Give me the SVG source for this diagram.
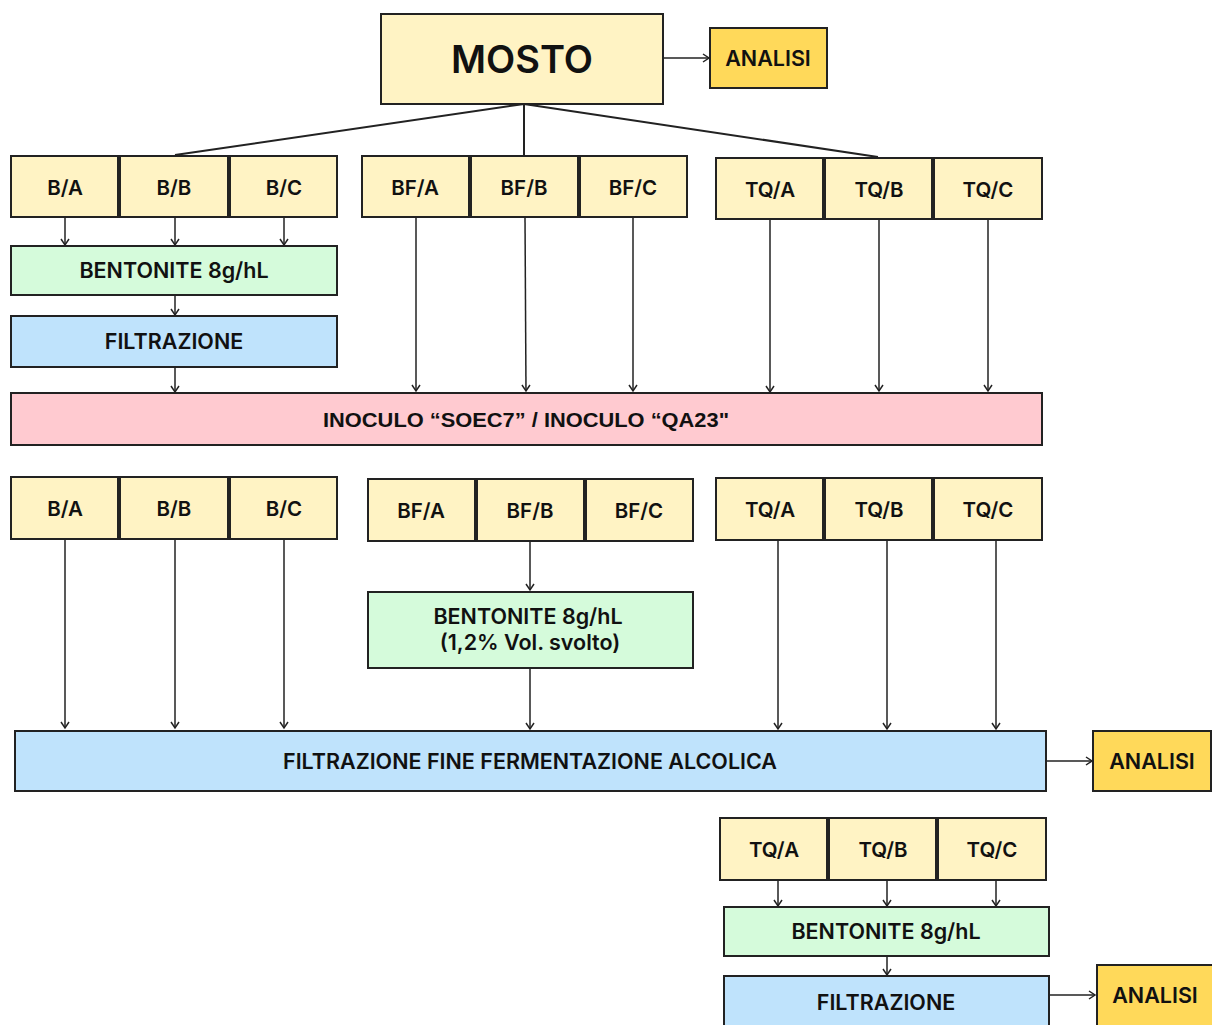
<svg xmlns="http://www.w3.org/2000/svg" width="1212" height="1025" viewBox="0 0 1212 1025">
<defs>
<marker id="ah" markerWidth="10" markerHeight="10" refX="8" refY="5" orient="auto" markerUnits="userSpaceOnUse">
<path d="M2,1 L8,5 L2,9" fill="none" stroke="#222" stroke-width="1.5"/>
</marker>
<style>
rect{stroke:#222;stroke-width:2}
.y{fill:#FFF3C4}
.g{fill:#D5FBDB}
.b{fill:#BFE3FC}
.p{fill:#FFCAD0}
.o{fill:#FFD95A}
text{font-family:"Inter","Liberation Sans",sans-serif;font-weight:600;fill:#111;text-anchor:middle;dominant-baseline:central}
.s{font-size:20.5px}
.m{font-size:21.5px}
.c line,.c path{stroke:#222;stroke-width:1.5;fill:none}
.c .a{marker-end:url(#ah)}
</style>
</defs>
<rect width="1212" height="1025" fill="#fff" style="stroke:none"/>

<g class="c" id="connectors">
<line class="a" x1="663" y1="58" x2="709" y2="58"/>
<path d="M524,104 L175,155 M524,104 L524,155 M524,104 L878,157" style="stroke-width:2"/>
<line class="a" x1="65" y1="217" x2="65" y2="245"/>
<line class="a" x1="175" y1="217" x2="175" y2="245"/>
<line class="a" x1="284" y1="217" x2="284" y2="245"/>
<line class="a" x1="175" y1="295" x2="175" y2="315"/>
<line class="a" x1="175" y1="367" x2="175" y2="392"/>
<line class="a" x1="416" y1="217" x2="416" y2="391"/>
<line class="a" x1="525" y1="217" x2="526" y2="391"/>
<line class="a" x1="633" y1="217" x2="633" y2="391"/>
<line class="a" x1="770" y1="219" x2="770" y2="392"/>
<line class="a" x1="879" y1="219" x2="879" y2="391"/>
<line class="a" x1="988" y1="219" x2="988" y2="391"/>
<line class="a" x1="65" y1="539" x2="65" y2="728"/>
<line class="a" x1="175" y1="539" x2="175" y2="728"/>
<line class="a" x1="284" y1="539" x2="284" y2="728"/>
<line class="a" x1="530" y1="541" x2="530" y2="590"/>
<line class="a" x1="530" y1="668" x2="530" y2="729"/>
<line class="a" x1="778" y1="540" x2="778" y2="729"/>
<line class="a" x1="887" y1="540" x2="887" y2="729"/>
<line class="a" x1="996" y1="540" x2="996" y2="729"/>
<line class="a" x1="1046" y1="761" x2="1092" y2="761"/>
<line class="a" x1="778" y1="880" x2="778" y2="906"/>
<line class="a" x1="887" y1="880" x2="887" y2="906"/>
<line class="a" x1="996" y1="880" x2="996" y2="906"/>
<line class="a" x1="887" y1="956" x2="887" y2="975"/>
<line class="a" x1="1049" y1="995" x2="1095" y2="995"/>
</g>

<g id="mosto"><rect class="y" x="381" y="14" width="282" height="90"/><text x="522" y="59" style="font-size:38px">MOSTO</text></g>
<g id="analisi1"><rect class="o" x="710" y="28" width="117" height="60"/><text class="m" x="768" y="58">ANALISI</text></g>

<g id="r1-ba"><rect class="y" x="11" y="156" width="107" height="61"/><text class="s" x="65" y="187">B/A</text></g>
<g id="r1-bb"><rect class="y" x="120" y="156" width="108" height="61"/><text class="s" x="174" y="187">B/B</text></g>
<g id="r1-bc"><rect class="y" x="230" y="156" width="107" height="61"/><text class="s" x="284" y="187">B/C</text></g>
<g id="r1-bfa"><rect class="y" x="362" y="156" width="107" height="61"/><text class="s" x="415" y="187">BF/A</text></g>
<g id="r1-bfb"><rect class="y" x="471" y="156" width="107" height="61"/><text class="s" x="524" y="187">BF/B</text></g>
<g id="r1-bfc"><rect class="y" x="580" y="156" width="107" height="61"/><text class="s" x="633" y="187">BF/C</text></g>
<g id="r1-tqa"><rect class="y" x="716" y="158" width="107" height="61"/><text class="s" x="770" y="189">TQ/A</text></g>
<g id="r1-tqb"><rect class="y" x="825" y="158" width="107" height="61"/><text class="s" x="879" y="189">TQ/B</text></g>
<g id="r1-tqc"><rect class="y" x="934" y="158" width="108" height="61"/><text class="s" x="988" y="189">TQ/C</text></g>

<g id="bent1"><rect class="g" x="11" y="246" width="326" height="49"/><text class="m" x="174" y="270">BENTONITE 8g/hL</text></g>
<g id="filt1"><rect class="b" x="11" y="316" width="326" height="51"/><text class="m" x="174" y="341">FILTRAZIONE</text></g>

<g id="inoculo"><rect class="p" x="11" y="393" width="1031" height="52"/><text x="526" y="419" style="font-size:21px;font-family:'Liberation Sans Narrow','Liberation Sans',sans-serif;font-weight:700" textLength="406" lengthAdjust="spacingAndGlyphs">INOCULO “SOEC7” / INOCULO “QA23"</text></g>

<g id="r2-ba"><rect class="y" x="11" y="477" width="107" height="62"/><text class="s" x="65" y="508">B/A</text></g>
<g id="r2-bb"><rect class="y" x="120" y="477" width="108" height="62"/><text class="s" x="174" y="508">B/B</text></g>
<g id="r2-bc"><rect class="y" x="230" y="477" width="107" height="62"/><text class="s" x="284" y="508">B/C</text></g>
<g id="r2-bfa"><rect class="y" x="368" y="479" width="107" height="62"/><text class="s" x="421" y="510">BF/A</text></g>
<g id="r2-bfb"><rect class="y" x="477" y="479" width="107" height="62"/><text class="s" x="530" y="510">BF/B</text></g>
<g id="r2-bfc"><rect class="y" x="586" y="479" width="107" height="62"/><text class="s" x="639" y="510">BF/C</text></g>
<g id="r2-tqa"><rect class="y" x="716" y="478" width="107" height="62"/><text class="s" x="770" y="509">TQ/A</text></g>
<g id="r2-tqb"><rect class="y" x="825" y="478" width="107" height="62"/><text class="s" x="879" y="509">TQ/B</text></g>
<g id="r2-tqc"><rect class="y" x="934" y="478" width="108" height="62"/><text class="s" x="988" y="509">TQ/C</text></g>

<g id="bent2"><rect class="g" x="368" y="592" width="325" height="76"/><text class="m" x="528" y="616">BENTONITE 8g/hL</text><text class="m" x="530" y="642">(1,2% Vol. svolto)</text></g>

<g id="filtfine"><rect class="b" x="15" y="731" width="1031" height="60"/><text class="m" x="530" y="761">FILTRAZIONE FINE FERMENTAZIONE ALCOLICA</text></g>
<g id="analisi2"><rect class="o" x="1093" y="731" width="118" height="60"/><text class="m" x="1152" y="761">ANALISI</text></g>

<g id="r3-tqa"><rect class="y" x="720" y="818" width="107" height="62"/><text class="s" x="774" y="849">TQ/A</text></g>
<g id="r3-tqb"><rect class="y" x="829" y="818" width="107" height="62"/><text class="s" x="883" y="849">TQ/B</text></g>
<g id="r3-tqc"><rect class="y" x="938" y="818" width="108" height="62"/><text class="s" x="992" y="849">TQ/C</text></g>

<g id="bent3"><rect class="g" x="724" y="907" width="325" height="49"/><text class="m" x="886" y="931">BENTONITE 8g/hL</text></g>
<g id="filt3"><rect class="b" x="724" y="976" width="325" height="60"/><text class="m" x="886" y="1002">FILTRAZIONE</text></g>
<g id="analisi3"><rect class="o" x="1097" y="965" width="118" height="65"/><text class="m" x="1155" y="995">ANALISI</text></g>
</svg>
